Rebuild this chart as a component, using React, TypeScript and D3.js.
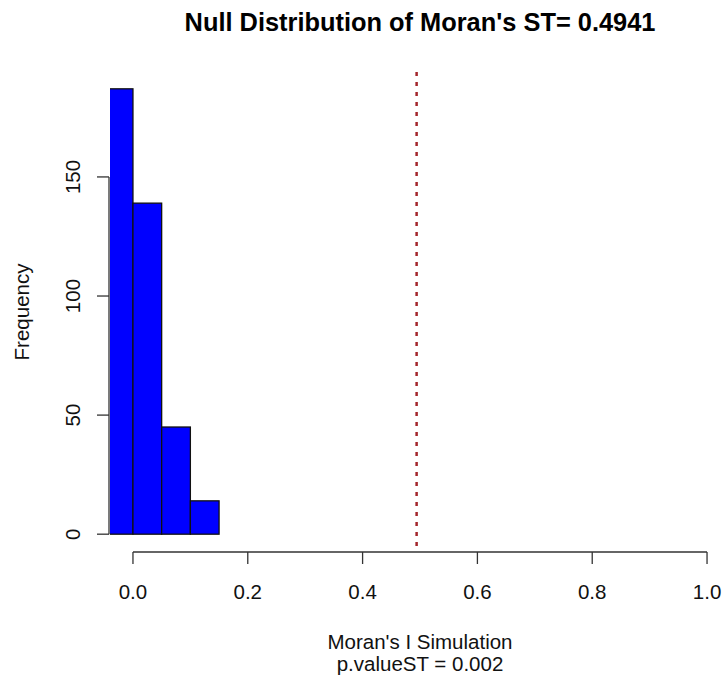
import React from "react";
import * as d3 from "d3";

const binStarts = [-0.05, 0.0, 0.05, 0.1];
const binEnds = [0.0, 0.05, 0.1, 0.15];
const counts = [187, 139, 45, 14];
const xTicks = [0, 0.2, 0.4, 0.6, 0.8, 1.0];
const yTicks = [0, 50, 100, 150];
const observed = 0.4941;
const pValue = "0.002";

const W = 723;
const H = 681;
const plotLeft = 110;
const plotRight = 730;
const plotTop = 71;
const plotBottom = 552;

export default function App() {
  const x = d3.scaleLinear().domain([-0.04, 1.04]).range([plotLeft, plotRight]);
  const y = d3.scaleLinear().domain([-7.48, 194.48]).range([plotBottom, plotTop]);
  const font = "'Liberation Sans', Arial, sans-serif";
  const axisColor = "#333";
  const fs = 20.5;
  const xAxisY = plotBottom;
  const yAxisX = plotLeft - 1;
  return (
    <svg width={W} height={H} style={{ position: "absolute", left: 0, top: 0, background: "#fff" }} fontFamily={font}>
      <defs>
        <clipPath id="plotClip">
          <rect x={plotLeft} y={plotTop} width={plotRight - plotLeft} height={plotBottom - plotTop} />
        </clipPath>
      </defs>
      <text x={420} y={31} textAnchor="middle" fontSize={25.4} fontWeight="bold" fill="#000">
        {`Null Distribution of Moran's ST= ${observed}`}
      </text>
      <g clipPath="url(#plotClip)">
        {counts.map((c, i) => (
          <rect
            key={i}
            x={x(binStarts[i])}
            y={y(c)}
            width={x(binEnds[i]) - x(binStarts[i])}
            height={y(0) - y(c)}
            fill="#0000ff"
            stroke="#111"
            strokeWidth={1.3}
          />
        ))}
        <line
          x1={x(observed)}
          x2={x(observed)}
          y1={plotTop + 1}
          y2={plotBottom}
          stroke="#a3262c"
          strokeWidth={2.5}
          strokeDasharray="4,6"
        />
      </g>
      {/* x axis */}
      <line x1={x(0)} x2={x(1)} y1={xAxisY} y2={xAxisY} stroke={axisColor} strokeWidth={1.3} />
      {xTicks.map((t) => (
        <g key={t}>
          <line x1={x(t)} x2={x(t)} y1={xAxisY} y2={xAxisY + 12} stroke={axisColor} strokeWidth={1.3} />
          <text x={x(t)} y={xAxisY + 47} textAnchor="middle" fontSize={fs} fill="#111">
            {t.toFixed(1)}
          </text>
        </g>
      ))}
      {/* y axis */}
      <line x1={yAxisX} x2={yAxisX} y1={y(0)} y2={y(150)} stroke={axisColor} strokeWidth={1.3} />
      {yTicks.map((t) => (
        <g key={t}>
          <line x1={yAxisX - 12} x2={yAxisX} y1={y(t)} y2={y(t)} stroke={axisColor} strokeWidth={1.3} />
          <text
            transform={`translate(${yAxisX - 29},${y(t)}) rotate(-90)`}
            textAnchor="middle"
            fontSize={fs}
            fill="#111"
          >
            {t}
          </text>
        </g>
      ))}
      <text transform={`translate(29,312) rotate(-90)`} textAnchor="middle" fontSize={fs} fill="#111">
        Frequency
      </text>
      <text x={420} y={649} textAnchor="middle" fontSize={fs} fill="#111">
        Moran's I Simulation
      </text>
      <text x={420} y={671} textAnchor="middle" fontSize={fs} fill="#111">
        {`p.valueST = ${pValue}`}
      </text>
    </svg>
  );
}
